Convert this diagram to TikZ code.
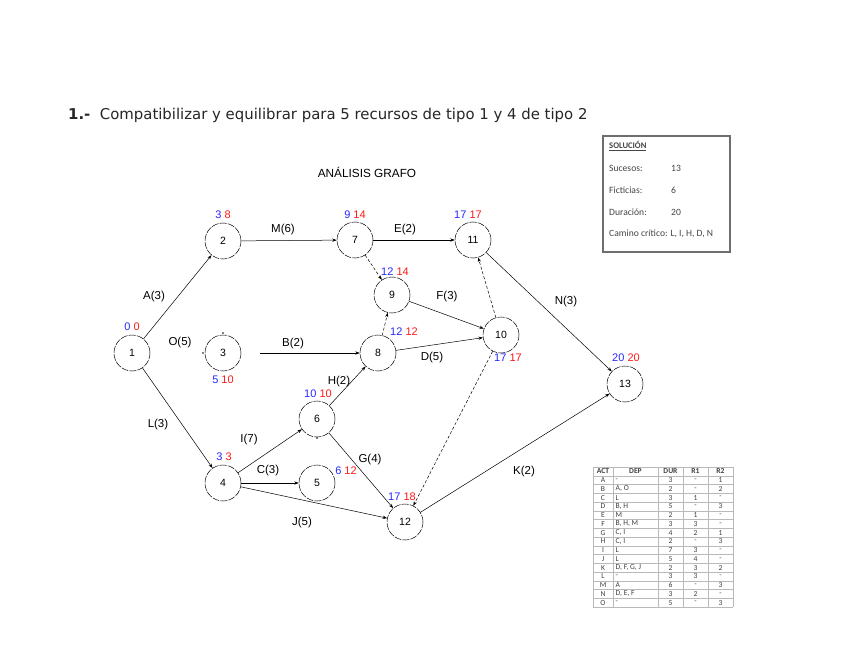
\documentclass[tikz,border=0pt]{standalone}
\usepackage{fontspec}
\setmainfont{Liberation Sans}
\newfontfamily\titlefont{DejaVu Sans}
\newfontfamily\calib{Carlito}
\usetikzlibrary{arrows.meta}
\definecolor{nblue}{RGB}{40,40,255}
\definecolor{nred}{RGB}{255,25,25}
\definecolor{boxgray}{RGB}{110,110,110}
\definecolor{txtgray}{RGB}{70,70,70}
\begin{document}
\begin{tikzpicture}[x=1pt,y=-1pt]
\tikzset{
  ev/.style={circle, draw, line width=0.5pt, dash pattern=on 7pt off 1.2pt, minimum size=36pt, inner sep=0pt, font=\fontsize{10.5}{12}\selectfont},
  act/.style={-{Stealth[length=4.5pt,width=3.2pt]}, line width=0.5pt},
  dum/.style={act, dash pattern=on 3pt off 2pt},
  lab/.style={font=\fontsize{11.5}{12}\selectfont, inner sep=0pt},
  tim/.style={font=\fontsize{11}{12}\selectfont, inner sep=0pt},
  soltxt/.style={anchor=west, inner sep=0pt, font=\calib\fontsize{9.6}{11}\selectfont, text=txtgray},
  tcell/.style={inner sep=0pt, font=\calib\fontsize{7.6}{8}\selectfont, text=black!75},
  thead/.style={tcell, font=\calib\bfseries\fontsize{7.6}{8}\selectfont},
}
\useasboundingbox (0,0) rectangle (848,655);
\fill[white] (0,0) rectangle (848,655);

% title
\node[anchor=west, inner sep=0pt, font=\titlefont\fontsize{14.9}{17}\selectfont, text=black!85] (title) at (68,115)
  {\textbf{1.-}\ \ Compatibilizar y equilibrar para 5 recursos de tipo 1 y 4 de tipo 2};
\node[inner sep=0pt, font=\fontsize{11.8}{13}\selectfont] (sub) at (367,172) {ANÁLISIS GRAFO};

% events
\node[ev] (n1) at (132,353) {1};
\node[ev] (n2) at (223,241) {2};
\node[ev] (n3) at (223,353) {3};
\node[ev] (n4) at (223,483) {4};
\node[ev] (n5) at (317,483) {5};
\node[ev] (n6) at (317,419) {6};
\node[ev] (n7) at (355,240) {7};
\node[ev] (n8) at (378,353) {8};
\node[ev] (n9) at (392,295) {9};
\node[ev] (n10) at (501,335) {10};
\node[ev] (n11) at (473,240) {11};
\node[ev] (n12) at (405,522) {12};
\node[ev] (n13) at (625,384) {13};

% times
\node[tim] (t1) at (132,327) {\color{nblue}0 \color{nred}0};
\node[tim] (t2) at (223,215) {\color{nblue}3 \color{nred}8};
\node[tim] (t3) at (223,380) {\color{nblue}5 \color{nred}10};
\node[tim] (t4) at (224,457) {\color{nblue}3 \color{nred}3};
\node[tim] (t5) at (346,471) {\color{nblue}6 \color{nred}12};
\node[tim] (t6) at (318,394) {\color{nblue}10 \color{nred}10};
\node[tim] (t7) at (355,215) {\color{nblue}9 \color{nred}14};
\node[tim] (t8) at (404,332) {\color{nblue}12 \color{nred}12};
\node[tim] (t9) at (395,272) {\color{nblue}12 \color{nred}14};
\node[tim] (t10) at (508,358) {\color{nblue}17 \color{nred}17};
\node[tim] (t11) at (468,215) {\color{nblue}17 \color{nred}17};
\node[tim] (t12) at (402,497) {\color{nblue}17 \color{nred}18};
\node[tim] (t13) at (626,358) {\color{nblue}20 \color{nred}20};

% activities
\draw[act] (n1) -- (n2);
\draw[act] (n1) -- (n4);
\draw[act] (n2) -- (n7);
\draw[act] (n7) -- (n11);
\draw[dum] (n7) -- (n9);
\draw[dum] (n8) -- (n9);
\draw[act] (n9) -- (n10);
\draw[act] (n8) -- (n10);
\draw[act] (n11) -- (n13);
\draw[dum] (n10) -- (n11);
\draw[dum] (n10) -- (n12);
\draw[act] (n12) -- (n13);
\draw[act] (n4) -- (n6);
\draw[act] (n4) -- (n5);
\draw[act] (n4) -- (n12);
\draw[act] (n6) -- (n8);
\draw[act] (n6) -- (n12);
\coordinate (bs) at (260,353);
\draw[act] (bs) -- (n8);
\fill (223,333) circle (0.9);
\fill (203,353) circle (0.9);
\fill (317,438) circle (0.9);

% activity labels
\node[lab] (lA) at (154,297) {A(3)};
\node[lab] (lO) at (180,343) {O(5)};
\node[lab] (lM) at (283,230) {M(6)};
\node[lab] (lE) at (405,230) {E(2)};
\node[lab] (lB) at (293,344) {B(2)};
\node[lab] (lF) at (447,297) {F(3)};
\node[lab] (lD) at (432,358) {D(5)};
\node[lab] (lN) at (566,302) {N(3)};
\node[lab] (lH) at (339,382) {H(2)};
\node[lab] (lL) at (158,425) {L(3)};
\node[lab] (lI) at (249,440) {I(7)};
\node[lab] (lC) at (268,471) {C(3)};
\node[lab] (lG) at (370,460) {G(4)};
\node[lab] (lJ) at (302,523) {J(5)};
\node[lab] (lK) at (524,472) {K(2)};

% solution box
\node[draw=boxgray, line width=1.3pt, minimum width=127pt, minimum height=116pt, inner sep=0pt] (sol) at (666.5,194) {};
\node[soltxt, font=\calib\bfseries\fontsize{8.6}{10}\selectfont] (s0) at (609,146) {\underline{SOLUCIÓN}};
\node[soltxt] (s1) at (609,168) {Sucesos:};
\node[soltxt] (s1v) at (671,168) {13};
\node[soltxt] (s2) at (609,190) {Ficticias:};
\node[soltxt] (s2v) at (671,190) {6};
\node[soltxt] (s3) at (609,212) {Duración:};
\node[soltxt] (s3v) at (671,212) {20};
\node[soltxt] (s4) at (609,234) {Camino crítico: L, I, H, D, N};

% table
\def\tT{467}\def\tH{8.75}
\foreach \k in {0,...,16} {
  \draw[gray!55, line width=0.4pt] (593,{\tT+\k*\tH}) -- (733,{\tT+\k*\tH});
}
\foreach \xx in {593,613,658,683,708,733} {
  \draw[gray!55, line width=0.4pt] (\xx,\tT) -- (\xx,{\tT+16*\tH});
}
\node[thead] (h1) at (603,{\tT+0.5*\tH}) {ACT};
\node[thead] (h2) at (635.5,{\tT+0.5*\tH}) {DEP};
\node[thead] (h3) at (670.5,{\tT+0.5*\tH}) {DUR};
\node[thead] (h4) at (695.5,{\tT+0.5*\tH}) {R1};
\node[thead] (h5) at (720.5,{\tT+0.5*\tH}) {R2};
\foreach \a/\d/\u/\r/\s [count=\i] in {
  A/-/3/-/1, B/{A, O}/2/-/2, C/L/3/1/-, D/{B, H}/5/-/3, E/M/2/1/-,
  F/{B, H, M}/3/3/-, G/{C, I}/4/2/1, H/{C, I}/2/-/3, I/L/7/3/-, J/L/5/4/-,
  K/{D, F, G, J}/2/3/2, L/-/3/3/-, M/A/6/-/3, N/{D, E, F}/3/2/-, O/-/5/-/3} {
  \node[tcell] (ca\i) at (603,{\tT+(\i+0.5)*\tH}) {\a};
  \node[tcell, anchor=west] (cd\i) at (615.5,{\tT+(\i+0.5)*\tH}) {\d};
  \node[tcell] (cu\i) at (670.5,{\tT+(\i+0.5)*\tH}) {\u};
  \node[tcell] (cr\i) at (695.5,{\tT+(\i+0.5)*\tH}) {\r};
  \node[tcell] (cs\i) at (720.5,{\tT+(\i+0.5)*\tH}) {\s};
}
\end{tikzpicture}
\end{document}
